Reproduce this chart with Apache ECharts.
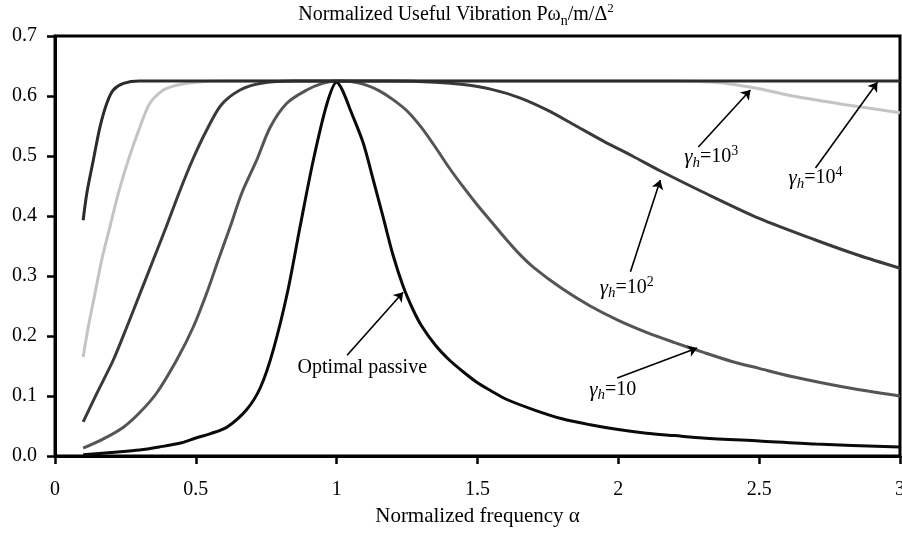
<!DOCTYPE html>
<html>
<head>
<meta charset="utf-8">
<script src="https://cdn.jsdelivr.net/npm/echarts@6/dist/echarts.min.js"></script>
<style>html,body{margin:0;padding:0;background:#fff}#c{width:902px;height:533px}</style>
</head>
<body>
<div id="c"></div>
<script>
// ---- data ----
const optimalX = [0.1,0.2,0.3,0.37,0.45,0.5,0.55,0.61,0.68,0.73,0.775,0.825,0.87,0.917,0.966,1.0,1.02,1.05,1.094,1.13,1.165,1.2,1.236,1.27,1.3,1.35,1.4,1.45,1.5,1.55,1.6,1.7,1.8,1.9,2.0,2.1,2.2,2.3,2.5,2.7,3.0];
const optimalY = [0.002,0.006,0.01,0.015,0.022,0.03,0.037,0.048,0.077,0.115,0.177,0.272,0.382,0.493,0.588,0.623,0.61,0.575,0.522,0.46,0.398,0.335,0.283,0.245,0.218,0.185,0.16,0.14,0.122,0.108,0.095,0.077,0.062,0.052,0.044,0.038,0.034,0.03,0.025,0.02,0.015];

const g10X = [0.1,0.17,0.243,0.3,0.361,0.432,0.491,0.539,0.58,0.622,0.663,0.716,0.764,0.823,0.894,0.95,1.0,1.05,1.1,1.15,1.2,1.25,1.3,1.35,1.4,1.45,1.5,1.55,1.6,1.65,1.7,1.8,1.9,2.0,2.1,2.2,2.3,2.4,2.5,2.62,2.8,3.0];
const g10Y = [0.013,0.028,0.048,0.072,0.105,0.16,0.215,0.272,0.327,0.382,0.438,0.493,0.548,0.588,0.61,0.621,0.625,0.624,0.619,0.609,0.594,0.575,0.548,0.515,0.48,0.448,0.418,0.39,0.362,0.336,0.314,0.279,0.25,0.226,0.206,0.189,0.173,0.158,0.146,0.132,0.115,0.1];

const g100X = [0.1,0.148,0.207,0.255,0.302,0.349,0.395,0.44,0.485,0.535,0.59,0.657,0.728,0.85,1.2,1.35,1.45,1.55,1.65,1.75,1.85,1.95,2.05,2.15,2.3,2.5,2.7,2.85,3.0];
const g100Y = [0.057,0.104,0.16,0.215,0.271,0.327,0.382,0.438,0.49,0.54,0.585,0.61,0.621,0.625,0.625,0.623,0.619,0.611,0.597,0.576,0.55,0.524,0.5,0.475,0.44,0.396,0.36,0.335,0.313];

const g1000X = [0.1,0.118,0.142,0.166,0.195,0.225,0.26,0.302,0.337,0.385,0.432,0.5,0.6,2.2,2.36,2.5,2.62,2.8,3.0];
const g1000Y = [0.165,0.215,0.271,0.327,0.382,0.438,0.493,0.549,0.588,0.61,0.618,0.623,0.625,0.625,0.622,0.612,0.6,0.586,0.572];

const g10000X = [0.1,0.113,0.136,0.16,0.184,0.207,0.243,0.3,3.0];
const g10000Y = [0.393,0.438,0.493,0.549,0.588,0.61,0.621,0.625,0.625];

const xTicks = [0, 0.5, 1, 1.5, 2, 2.5, 3];
const yTicks = [0, 0.1, 0.2, 0.3, 0.4, 0.5, 0.6, 0.7];

// annotation text: [x, y, label], arrows: [[x1,y1],[x2,y2]] (data coordinates)
const annoLabels = [
  [1.091, 0.147, '{t|Optimal passive}'],
  [1.98, 0.11, '{g|γ}{h|h}{t|=10}'],
  [2.03, 0.28, '{g|γ}{h|h}{t|=10}{s|2}'],
  [2.33, 0.498, '{g|γ}{h|h}{t|=10}{s|3}'],
  [2.70, 0.463, '{g|γ}{h|h}{t|=10}{s|4}']
];
const annoArrows = [
  [[1.037, 0.168], [1.236, 0.273]],
  [[1.996, 0.13], [2.28, 0.18]],
  [[2.043, 0.307], [2.149, 0.46]],
  [[2.284, 0.515], [2.469, 0.61]],
  [[2.70, 0.48], [2.92, 0.623]]
];

const FONT = 'Liberation Serif';
const zip = (xs, ys) => xs.map((x, i) => [x, ys[i]]);

const chart = echarts.init(document.getElementById('c'), null, {renderer: 'canvas'});

function lineSeries(name, xs, ys, color, w) {
  return {
    name, type: 'line', data: zip(xs, ys), showSymbol: false, symbol: 'none',
    smooth: 0.3, lineStyle: {color, width: w}, animation: false, silent: true, z: 3
  };
}

const txt = (o) => Object.assign({color: '#000', fontFamily: FONT, textBorderWidth: 0, textBorderColor: 'transparent', opacity: 1}, o);

const option = {
  backgroundColor: '#fff',
  animation: false,
  grid: {left: 55, right: 2, top: 36, bottom: 77, show: true, borderColor: '#000', borderWidth: 3,
    containLabel: false, outerBoundsMode: 'none'},
  xAxis: {
    type: 'value', min: 0, max: 3, interval: 0.5,
    name: 'Normalized frequency α', nameLocation: 'middle', nameGap: 50,
    nameTextStyle: {fontFamily: FONT, fontSize: 21, color: '#000'},
    axisLine: {show: true, lineStyle: {color: '#000', width: 3}},
    axisTick: {show: true, inside: false, length: 8, lineStyle: {color: '#000', width: 2.5}},
    axisLabel: {fontFamily: FONT, fontSize: 20, color: '#000', margin: 24, showMaxLabel: true,
      formatter: v => String(xTicks.find(t => Math.abs(t - v) < 1e-9) ?? v)},
    splitLine: {show: false}
  },
  yAxis: {
    type: 'value', min: 0, max: 0.7, interval: 0.1,
    axisLine: {show: true, lineStyle: {color: '#000', width: 3}},
    axisTick: {show: true, inside: false, length: 8, lineStyle: {color: '#000', width: 2.5}},
    axisLabel: {fontFamily: FONT, fontSize: 20, color: '#000', margin: 18,
      formatter: v => (yTicks.find(t => Math.abs(t - v) < 1e-9) ?? v).toFixed(1)},
    splitLine: {show: false}
  },
  graphic: [{
    type: 'text', x: 456, y: 2,
    style: {
      text: '{t|Normalized Useful Vibration Pω}{b|n}{t|/m/Δ}{p|2}',
      align: 'center',
      rich: {
        t: {fontFamily: FONT, fontSize: 20, lineHeight: 26, color: '#000'},
        b: {fontFamily: FONT, fontSize: 14, lineHeight: 15, verticalAlign: 'bottom', color: '#000'},
        p: {fontFamily: FONT, fontSize: 13, lineHeight: 12, verticalAlign: 'top', color: '#000'}
      }
    }
  }],
  series: [
    lineSeries('γh=10^3', g1000X, g1000Y, '#c4c4c4', 3),
    lineSeries('γh=10', g10X, g10Y, '#555555', 3),
    lineSeries('γh=10^2', g100X, g100Y, '#3a3a3a', 3),
    lineSeries('Optimal passive', optimalX, optimalY, '#0a0a0a', 3),
    lineSeries('γh=10^4', g10000X, g10000Y, '#2b2b2b', 3),
    {
      name: 'annotations', type: 'scatter', symbolSize: 0,
      itemStyle: {color: '#000'},
      silent: true, animation: false, z: 5,
      data: annoLabels.map(a => ({value: [a[0], a[1]], label: {formatter: a[2]}})),
      label: {
        show: true, position: 'inside', color: '#000', textBorderWidth: 0, textBorderColor: 'transparent',
        rich: {
          t: txt({fontSize: 20, lineHeight: 26}),
          g: txt({fontSize: 21, fontStyle: 'italic', lineHeight: 26}),
          h: txt({fontSize: 15, fontStyle: 'italic', lineHeight: 15, verticalAlign: 'bottom'}),
          s: txt({fontSize: 14, lineHeight: 13, verticalAlign: 'top'})
        }
      },
      markLine: {
        silent: true, animation: false, symbol: ['none', 'arrow'], symbolSize: 9,
        label: {show: false},
        lineStyle: {color: '#000', width: 1.6, type: 'solid', opacity: 1},
        itemStyle: {color: '#000', opacity: 1},
        data: annoArrows.map(a => [{coord: a[0]}, {coord: a[1]}])
      }
    }
  ]
};
chart.setOption(option);
</script>
</body>
</html>
